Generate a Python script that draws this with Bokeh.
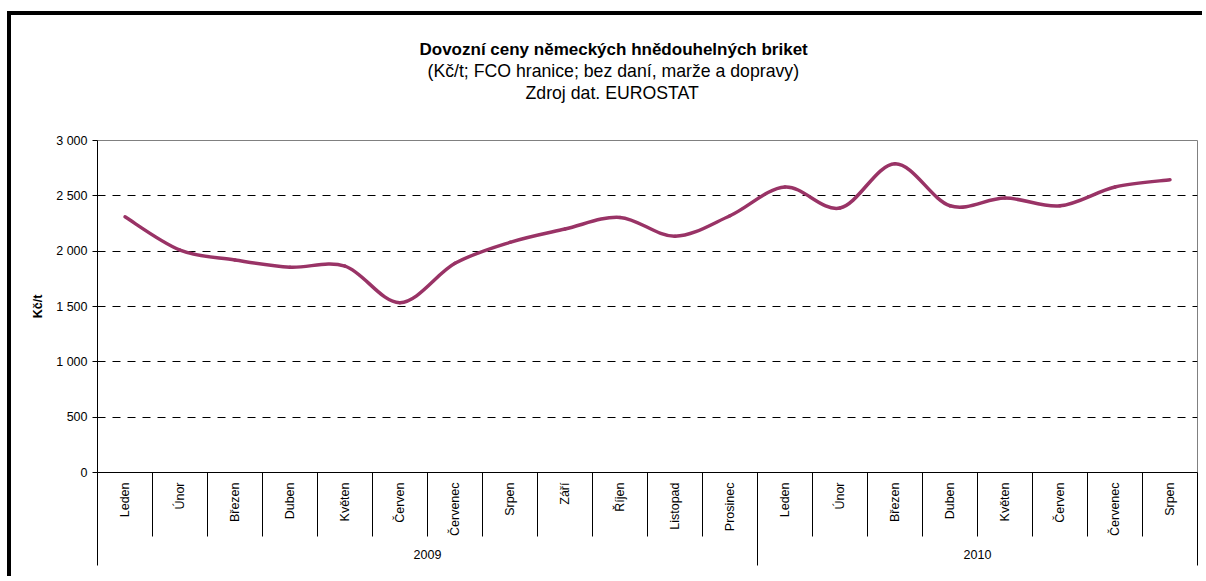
import math
from bokeh.plotting import figure
from bokeh.models import Range1d, LinearAxis, FixedTicker, Title, Grid, ColumnDataSource
from bokeh.embed import file_html
from bokeh.resources import INLINE

# ---------------- data ----------------
months = ["Leden", "Únor", "Březen", "Duben", "Květen", "Červen", "Červenec",
          "Srpen", "Září", "Říjen", "Listopad", "Prosinec",
          "Leden", "Únor", "Březen", "Duben", "Květen", "Červen", "Červenec", "Srpen"]
years = ["2009", "2010"]
year_counts = [12, 8]
prices = [2310, 2010, 1920, 1855, 1865, 1535, 1890, 2080, 2200, 2305, 2135, 2320,
          2580, 2390, 2790, 2410, 2480, 2410, 2580, 2645]
y_ticks = [0, 500, 1000, 1500, 2000, 2500, 3000]
y_tick_labels = ["0", "500", "1 000", "1 500", "2 000", "2 500", "3 000"]
title_text = "Dovozní ceny německých hnědouhelných briket"
subtitle_text = "(Kč/t; FCO hranice; bez daní, marže a dopravy)"
source_text = "Zdroj dat. EUROSTAT"
y_label = "Kč/t"

FONT = "Liberation Sans"
LINE_COLOR = "#993366"
n = len(prices)

p = figure(width=1195, height=565, output_backend="svg", toolbar_location=None,
           title=None, x_axis_type=None, y_axis_type=None,
           x_range=Range1d(-0.5, n - 0.5), y_range=Range1d(y_ticks[0], y_ticks[-1]),
           min_border_left=86, min_border_right=9, min_border_top=125, min_border_bottom=108,
           background_fill_color="white", border_fill_color="white",
           styles={"border-left": "4px solid black", "border-top": "4px solid black",
                   "margin-top": "11px", "margin-left": "7px"})
p.outline_line_color = "#808080"
p.outline_line_width = 1

# grid
grid = Grid(dimension=1, ticker=FixedTicker(ticks=y_ticks[1:-1]),
            grid_line_color="black", grid_line_dash="8 7", grid_line_width=1)
p.add_layout(grid, "center")

# y axis
yaxis = LinearAxis(ticker=FixedTicker(ticks=y_ticks, minor_ticks=[]),
                   major_label_overrides=dict(zip(y_ticks, y_tick_labels)),
                   axis_label=y_label, axis_label_text_font=FONT,
                   axis_label_text_font_style="bold", axis_label_text_font_size="12.5px",
                   axis_label_text_color="black", axis_label_standoff=8,
                   major_label_text_font=FONT, major_label_text_font_size="12.5px",
                   major_label_text_color="black", major_label_standoff=5,
                   major_tick_out=5, major_tick_in=0, major_tick_line_color="black",
                   axis_line_color="black", axis_line_width=1)
p.add_layout(yaxis, "left")

# x axis: months (separators as minor ticks, labels pulled back up with negative standoff)
month_ticks = list(range(n))
month_bounds = [i - 0.5 for i in range(n + 1)]
xaxis = LinearAxis(ticker=FixedTicker(ticks=month_ticks, minor_ticks=month_bounds),
                   major_label_overrides=dict(zip(month_ticks, months)),
                   major_label_orientation=math.pi / 2,
                   major_label_text_font=FONT, major_label_text_font_size="12.5px",
                   major_label_text_color="black", major_label_standoff=-54,
                   major_tick_out=0, major_tick_in=0,
                   minor_tick_out=64, minor_tick_in=0, minor_tick_line_color="black",
                   minor_tick_line_width=1,
                   axis_line_color="black", axis_line_width=1)
p.add_layout(xaxis, "below")

# x axis: years (doubled index range so that group centres are integers)
p.extra_x_ranges = {"years": Range1d(-1, 2 * n - 1)}
year_bounds = [-1]
for c in year_counts:
    year_bounds.append(year_bounds[-1] + 2 * c)
year_centers = [(a + b) // 2 for a, b in zip(year_bounds[:-1], year_bounds[1:])]
yraxis = LinearAxis(x_range_name="years",
                    ticker=FixedTicker(ticks=year_centers, minor_ticks=year_bounds),
                    major_label_overrides=dict(zip(year_centers, years)),
                    major_label_text_font=FONT, major_label_text_font_size="12.5px",
                    major_label_text_color="black", major_label_standoff=-16,
                    major_tick_out=0, major_tick_in=0,
                    minor_tick_in=63, minor_tick_out=27, minor_tick_line_color="black",
                    minor_tick_line_width=1, axis_line_color=None)
p.add_layout(yraxis, "below")

# smoothed line (cubic Bezier segments through the data points)
xs = list(range(n))
x0, y0, x1, y1, cx0, cy0, cx1, cy1 = [], [], [], [], [], [], [], []
for i in range(n - 1):
    im1 = max(i - 1, 0)
    ip2 = min(i + 2, n - 1)
    x0.append(xs[i]); y0.append(prices[i])
    x1.append(xs[i + 1]); y1.append(prices[i + 1])
    cx0.append(xs[i] + (xs[i + 1] - xs[im1]) / 6)
    cy0.append(prices[i] + (prices[i + 1] - prices[im1]) / 6)
    cx1.append(xs[i + 1] - (xs[ip2] - xs[i]) / 6)
    cy1.append(prices[i + 1] - (prices[ip2] - prices[i]) / 6)
src = ColumnDataSource(dict(x0=x0, y0=y0, x1=x1, y1=y1, cx0=cx0, cy0=cy0, cx1=cx1, cy1=cy1))
p.bezier(x0="x0", y0="y0", x1="x1", y1="y1", cx0="cx0", cy0="cy0", cx1="cx1", cy1="cy1",
         source=src, line_color=LINE_COLOR, line_width=3.5, line_cap="round")

# title block: a spacer nearest the plot, then the three lines (first added = nearest)
p.add_layout(Title(text=" ", standoff=17, text_font=FONT, text_font_size="17px"), "above")
p.add_layout(Title(text=source_text, align="left", offset=428, standoff=0,
                   text_font=FONT, text_font_size="17.7px", text_font_style="normal",
                   text_color="black"), "above")
p.add_layout(Title(text=subtitle_text, align="left", offset=330, standoff=0,
                   text_font=FONT, text_font_size="17.7px", text_font_style="normal",
                   text_color="black"), "above")
p.add_layout(Title(text=title_text, align="left", offset=322, standoff=0,
                   text_font=FONT, text_font_size="17px", text_font_style="bold",
                   text_color="black"), "above")

open("out.html", "w").write(file_html(p, INLINE))
